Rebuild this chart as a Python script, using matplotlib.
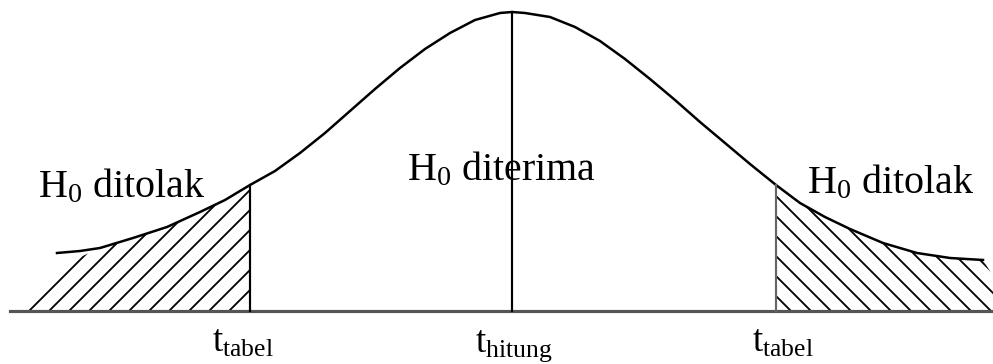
import numpy as np
import matplotlib
matplotlib.use("Agg")
import matplotlib.pyplot as plt

plt.rcParams['font.family'] = ['Liberation Serif', 'DejaVu Serif']
plt.rcParams['mathtext.fontset'] = 'custom'
plt.rcParams['mathtext.rm'] = 'Liberation Serif'
plt.rcParams['mathtext.it'] = 'Liberation Serif:italic'
plt.rcParams['hatch.linewidth'] = 1.1

# curve (x, height above the base line)
curve_x = [57, 80, 100, 133, 167, 200, 225, 250, 275, 300, 325, 350, 375, 400,
           425, 450, 475, 500, 512, 525, 550, 575, 600, 625, 650, 675, 700,
           725, 750, 776, 800, 825, 850, 883, 917, 950, 983]
curve_h = [58, 60, 63, 73, 84, 99, 111, 126, 140, 158, 178, 200, 222, 243,
           262, 278, 291, 298, 299, 298, 294, 284, 270, 252, 232, 211, 189,
           168, 147, 126, 108, 94, 82, 68, 58, 53, 51]

t_tabel_left = 250
t_hitung = 512
t_tabel_right = 776

labels_top = [r"$\mathrm{H}_0$ ditolak", r"$\mathrm{H}_0$ diterima", r"$\mathrm{H}_0$ ditolak"]
labels_bottom = [r"t$_{\mathrm{tabel}}$", r"t$_{\mathrm{hitung}}$", r"t$_{\mathrm{tabel}}$"]

cx = np.array(curve_x)
ch = np.array(curve_h)

fig = plt.figure(figsize=(993 / 120, 364 / 120), dpi=120)
ax = fig.add_axes([0, 0, 1, 1])
ax.set_xlim(0, 993)
ax.set_ylim(-53, 311)
ax.axis('off')

# hatched rejection regions
m = (cx >= 100) & (cx <= t_tabel_left)
poly_x = [22, 76] + list(cx[m]) + [t_tabel_left]
poly_y = [0, 52] + list(ch[m]) + [0]
ax.fill(poly_x, poly_y, facecolor='none', edgecolor='black', hatch='//', lw=0)

m = cx >= t_tabel_right
poly_x = [t_tabel_right] + list(cx[m]) + [993, 993]
poly_y = [0] + list(ch[m]) + [35, 0]
ax.fill(poly_x, poly_y, facecolor='none', edgecolor='black', hatch='\\\\', lw=0)

# curve and lines
ax.plot(cx, ch, color='black', lw=1.5, solid_joinstyle='round')
ax.plot([10, 993], [0, 0], color='#555555', lw=1.9)
ax.plot([t_tabel_left, t_tabel_left], [0, ch[cx == t_tabel_left][0]], color='black', lw=1.3)
ax.plot([t_hitung, t_hitung], [0, ch[cx == t_hitung][0]], color='black', lw=1.3)
ax.plot([t_tabel_right, t_tabel_right], [0, ch[cx == t_tabel_right][0]], color='#666666', lw=1.3)

# texts
ax.text(38, 114, labels_top[0], fontsize=24, ha='left', va='baseline')
ax.text(407, 131, labels_top[1], fontsize=24, ha='left', va='baseline')
ax.text(807, 118, labels_top[2], fontsize=24, ha='left', va='baseline')

ax.text(212, -41, labels_bottom[0], fontsize=22, ha='left', va='baseline')
ax.text(475, -41, labels_bottom[1], fontsize=22, ha='left', va='baseline')
ax.text(752, -41, labels_bottom[2], fontsize=22, ha='left', va='baseline')

fig.savefig("out.png", dpi=120)
